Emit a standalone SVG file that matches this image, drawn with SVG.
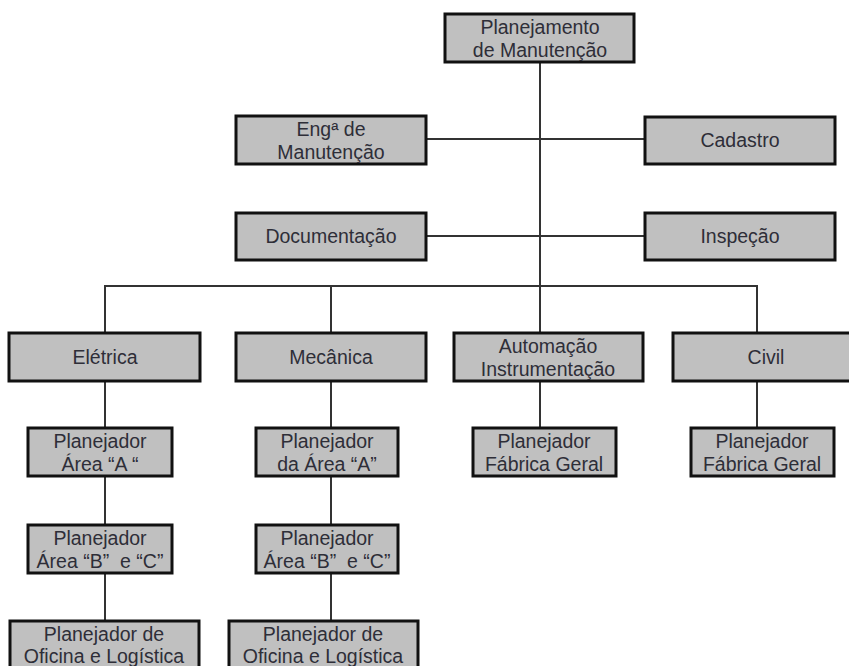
<svg xmlns="http://www.w3.org/2000/svg" width="849" height="666" viewBox="0 0 849 666">
  <style>
    .box rect { fill: #c0c0c0; stroke: #111; stroke-width: 3; }
    .box text { font-family: "Liberation Sans", Arial, sans-serif; font-size: 19.5px; fill: #2e2e38; text-anchor: middle; white-space: pre; }
    .links line { stroke: #333; stroke-width: 2; }
  </style>
  <rect width="849" height="666" fill="#fff"/>

  <g class="links">
    <line x1="540" y1="63" x2="540" y2="286"/>
    <line x1="427" y1="139" x2="645" y2="139"/>
    <line x1="427" y1="236" x2="645" y2="236"/>
    <line x1="104" y1="286" x2="758" y2="286"/>
    <line x1="105" y1="286" x2="105" y2="332"/>
    <line x1="331" y1="286" x2="331" y2="332"/>
    <line x1="540" y1="286" x2="540" y2="332"/>
    <line x1="757" y1="286" x2="757" y2="332"/>
    <line x1="105" y1="382" x2="105" y2="427"/>
    <line x1="331" y1="382" x2="331" y2="427"/>
    <line x1="540" y1="382" x2="540" y2="427"/>
    <line x1="757" y1="382" x2="757" y2="427"/>
    <line x1="105" y1="477" x2="105" y2="524"/>
    <line x1="331" y1="477" x2="331" y2="524"/>
    <line x1="105" y1="574" x2="105" y2="620"/>
    <line x1="331" y1="574" x2="331" y2="620"/>
  </g>

  <g id="planejamento" class="box">
    <rect x="445" y="14" width="189" height="48"/>
    <text x="540" y="34">Planejamento</text>
    <text x="540" y="57">de Manutenção</text>
  </g>
  <g id="engenharia" class="box">
    <rect x="236" y="116" width="190" height="48"/>
    <text x="331" y="136">Engª de</text>
    <text x="331" y="159">Manutenção</text>
  </g>
  <g id="cadastro" class="box">
    <rect x="645" y="117" width="190" height="47"/>
    <text x="740" y="147">Cadastro</text>
  </g>
  <g id="documentacao" class="box">
    <rect x="236" y="213" width="190" height="47"/>
    <text x="331" y="243">Documentação</text>
  </g>
  <g id="inspecao" class="box">
    <rect x="645" y="213" width="190" height="47"/>
    <text x="740" y="243">Inspeção</text>
  </g>

  <g id="eletrica" class="box">
    <rect x="9" y="333" width="191" height="48"/>
    <text x="105" y="364">Elétrica</text>
  </g>
  <g id="mecanica" class="box">
    <rect x="236" y="333" width="190" height="48"/>
    <text x="331" y="364">Mecânica</text>
  </g>
  <g id="automacao" class="box">
    <rect x="454" y="333" width="189" height="48"/>
    <text x="548" y="353">Automação</text>
    <text x="548" y="376">Instrumentação</text>
  </g>
  <g id="civil" class="box">
    <rect x="673" y="333" width="190" height="48"/>
    <text x="766" y="364">Civil</text>
  </g>

  <g id="eletrica-area-a" class="box">
    <rect x="28" y="428" width="144" height="48"/>
    <text x="100" y="448">Planejador</text>
    <text x="100" y="471">Área “A “</text>
  </g>
  <g id="mecanica-area-a" class="box">
    <rect x="256" y="428" width="142" height="48"/>
    <text x="327" y="448">Planejador</text>
    <text x="327" y="471">da Área “A”</text>
  </g>
  <g id="automacao-fabrica" class="box">
    <rect x="473" y="428" width="143" height="48"/>
    <text x="544" y="448">Planejador</text>
    <text x="544" y="471">Fábrica Geral</text>
  </g>
  <g id="civil-fabrica" class="box">
    <rect x="691" y="428" width="143" height="48"/>
    <text x="762" y="448">Planejador</text>
    <text x="762" y="471">Fábrica Geral</text>
  </g>

  <g id="eletrica-area-bc" class="box">
    <rect x="28" y="525" width="144" height="48"/>
    <text x="100" y="545">Planejador</text>
    <text x="100" y="568">Área “B”  e “C”</text>
  </g>
  <g id="mecanica-area-bc" class="box">
    <rect x="256" y="525" width="142" height="48"/>
    <text x="327" y="545">Planejador</text>
    <text x="327" y="568">Área “B”  e “C”</text>
  </g>

  <g id="eletrica-oficina" class="box">
    <rect x="10" y="621" width="189" height="60"/>
    <text x="104" y="641">Planejador de</text>
    <text x="104" y="663">Oficina e Logística</text>
  </g>
  <g id="mecanica-oficina" class="box">
    <rect x="229" y="621" width="189" height="60"/>
    <text x="323" y="641">Planejador de</text>
    <text x="323" y="663">Oficina e Logística</text>
  </g>
</svg>
